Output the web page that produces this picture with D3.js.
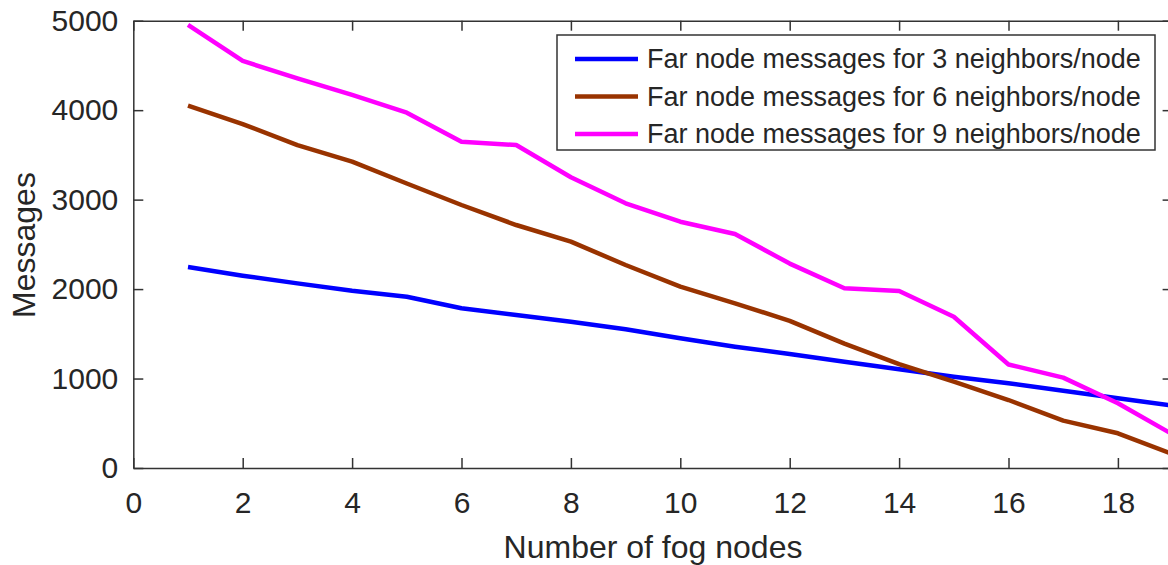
<!DOCTYPE html>
<html>
<head>
<meta charset="utf-8">
<script src="https://cdn.jsdelivr.net/npm/d3@7"></script>
<style>
  body { margin: 0; background: #fff; }
  svg { display: block; font-family: Arial, "Liberation Sans", sans-serif; }
  .axis path, .axis line { stroke: #333; stroke-width: 1.5; }
  .axis text { fill: #262626; font-size: 30px; }
</style>
</head>
<body>
<div id="chart"></div>
<script>
let nodes = [1, 2, 3, 4, 5, 6, 7, 8, 9, 10, 11, 12, 13, 14, 15, 16, 17, 18, 19];

let neighbors3 = [2247, 2150, 2064, 1982, 1915, 1785, 1710, 1635, 1550, 1450,
  1356, 1274, 1188, 1103, 1021, 947, 864, 779, 697];
let neighbors6 = [4050, 3845, 3610, 3424, 3180, 2940, 2716, 2530, 2269, 2027,
  1841, 1645, 1390, 1160, 965, 760, 529, 388, 155];
let neighbors9 = [4952, 4550, 4356, 4170, 3972, 3648, 3610, 3250, 2959, 2753,
  2616, 2285, 2009, 1979, 1691, 1157, 1010, 723, 376];

let seriesNames = [
  'Far node messages for 3 neighbors/node',
  'Far node messages for 6 neighbors/node',
  'Far node messages for 9 neighbors/node'
];
let seriesColors = ['#0000ff', '#993300', '#ff00ff'];

let xTicks = [0, 2, 4, 6, 8, 10, 12, 14, 16, 18];
let yTicks = [0, 1000, 2000, 3000, 4000, 5000];

let series = [neighbors3, neighbors6, neighbors9].map((values, i) => ({
  name: seriesNames[i],
  color: seriesColors[i],
  values: values.map((v, j) => ({ x: nodes[j], y: v }))
}));

let width = 1168;
let height = 565;
let margin = { top: 20.7, left: 133.3 };
let plotW = 1039.3;
let plotH = 447.3;

let x = d3.scaleLinear().domain([0, 19]).range([0, plotW]);
let y = d3.scaleLinear().domain([0, 5000]).range([plotH, 0]);

let svg = d3
  .select('#chart')
  .append('svg')
  .attr('width', width)
  .attr('height', height);

let g = svg
  .append('g')
  .attr('transform', `translate(${margin.left}, ${margin.top})`);

// lines first, box and ticks drawn over them
let line = d3
  .line()
  .x((d) => x(d.x))
  .y((d) => y(d.y));

g.selectAll('.series')
  .data(series)
  .enter()
  .append('path')
  .attr('class', 'series')
  .attr('fill', 'none')
  .attr('stroke', (d) => d.color)
  .attr('stroke-width', 4.5)
  .attr('stroke-linejoin', 'round')
  .attr('d', (d) => line(d.values));

g.append('g')
  .attr('class', 'axis')
  .attr('transform', `translate(0, ${plotH})`)
  .call(d3.axisBottom(x).tickValues(xTicks).tickSize(-10).tickSizeOuter(0).tickPadding(24).tickFormat(d3.format('d')));

g.append('g')
  .attr('class', 'axis')
  .call(d3.axisTop(x).tickValues(xTicks).tickSize(-10).tickSizeOuter(0).tickFormat(''));

g.append('g')
  .attr('class', 'axis')
  .call(d3.axisLeft(y).tickValues(yTicks).tickSize(-10).tickSizeOuter(0).tickPadding(15).tickFormat(d3.format('d')));

g.append('g')
  .attr('class', 'axis')
  .attr('transform', `translate(${plotW}, 0)`)
  .call(d3.axisRight(y).tickValues(yTicks).tickSize(-10).tickSizeOuter(0).tickFormat(''));

svg.selectAll('.axis').attr('font-family', null).attr('font-size', null);

// axis titles
svg.append('text')
  .attr('x', 653)
  .attr('y', 558)
  .attr('text-anchor', 'middle')
  .attr('fill', '#262626')
  .attr('font-size', 32)
  .text('Number of fog nodes');

svg.append('text')
  .attr('transform', 'translate(35, 245) rotate(-90)')
  .attr('text-anchor', 'middle')
  .attr('fill', '#262626')
  .attr('font-size', 32)
  .text('Messages');

// legend
let legend = svg.append('g').attr('transform', 'translate(557, 35)');

legend.append('rect')
  .attr('width', 598)
  .attr('height', 115)
  .attr('fill', '#fff')
  .attr('stroke', '#333')
  .attr('stroke-width', 1.5);

let rows = legend
  .selectAll('.row')
  .data(series)
  .enter()
  .append('g')
  .attr('class', 'row')
  .attr('transform', (d, i) => `translate(0, ${24 + i * 37.5})`);

rows.append('line')
  .attr('x1', 18)
  .attr('x2', 81)
  .attr('stroke', (d) => d.color)
  .attr('stroke-width', 4.5);

rows.append('text')
  .attr('x', 90)
  .attr('dy', '0.35em')
  .attr('fill', '#262626')
  .attr('font-size', 27)
  .text((d) => d.name);
</script>
</body>
</html>
